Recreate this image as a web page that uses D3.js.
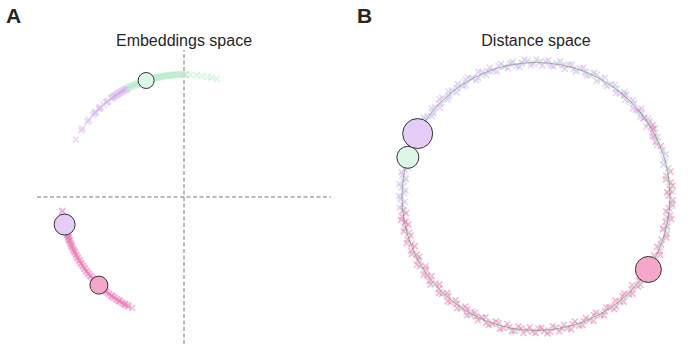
<!DOCTYPE html>
<html>
<head>
<meta charset="utf-8">
<script src="https://cdn.jsdelivr.net/npm/d3@7"></script>
<style>
body { margin: 0; background: #fff; }
text { font-family: "Liberation Sans", Arial, sans-serif; fill: #262626; }
</style>
</head>
<body>
<div id="container"></div>
<script>
// all angles in degrees on the unit circle (0 = right, counter-clockwise)

// panel A : embeddings space
var embGreen = [74.5, 77, 79, 81.5, 84, 87, 89, 89.5, 90, 90.5, 91, 91.5, 92, 92.5, 93, 93.5, 94, 94.5, 95,
	95.5, 96, 96.5, 97, 97.5, 98, 98.5, 99, 99.5, 100, 100.5, 101, 101.5, 102, 102.5, 103, 103.5, 104, 104.5,
	105, 105.5, 106, 106.5, 107, 107.5, 108, 108.5, 109, 109.5, 110, 110.5, 111, 111.5, 112, 112.5, 113,
	113.5, 114, 114.5, 115, 115.5, 116, 116.5, 117];
var embPurple = [117.5, 118, 118.5, 119, 119.5, 120, 120.5, 121, 121.5, 122, 122.5, 123, 123.5, 124, 124.5,
	125, 125.5, 126, 126.5, 128.5, 129, 129.5, 131, 133, 133.5, 134, 136, 136.5, 137, 138, 141, 142, 146,
	147, 152, 187, 189, 190.5, 191, 192, 193, 194, 195, 196, 197, 198, 199, 200, 201, 203, 206, 230, 234,
	238, 241];
var embPink = [186.5, 190, 191, 192, 193.5, 194.5, 195, 196, 196.5, 197.5, 198, 199, 199.5, 200.5, 201, 202,
	202.5, 203.5, 204, 205, 205.5, 206.5, 207, 208, 208.5, 209.5, 210, 211, 211.5, 212.5, 213, 214, 214.5,
	215.5, 216, 217, 217.5, 218.5, 219, 220, 220.5, 221.5, 222, 223, 223.5, 224.5, 225, 226, 226.5, 227.5,
	228, 229, 229.5, 230.5, 231, 232, 232.5, 233.5, 234, 235, 235.5, 236.5, 237, 238, 238.5, 239.5, 240,
	241, 241.5, 242.5, 243, 245];

// panel B : distance space, [angle, radius]
var distPurple = [[26, 1.01], [28.5, 0.99], [31, 1.0], [33.5, 1.015], [36, 0.99], [38.5, 1.005], [41, 0.985],
	[43.5, 1.01], [46, 0.995], [48.5, 1.015], [51, 0.99], [53.5, 1.0], [56, 1.01], [58.5, 0.985], [61, 1.005],
	[63.5, 1.015], [66, 0.99], [68.5, 1.0], [71, 1.01], [73.5, 0.99], [76, 1.015], [78.5, 0.995], [81, 1.005],
	[83.5, 0.985], [86, 1.01], [88.5, 1.0], [91, 0.99], [93.5, 1.015], [96, 1.005], [98.5, 0.985], [101, 1.01],
	[103.5, 0.995], [106, 1.015], [108.5, 0.99], [111, 1.0], [113.5, 1.01], [116, 0.985], [118.5, 1.005],
	[121, 1.015], [123.5, 0.99], [126, 1.0], [128.5, 1.01], [131, 0.99], [133.5, 1.015], [136, 0.995],
	[138.5, 1.005], [141, 0.985], [143.5, 1.01], [146, 1.0], [148.5, 0.99], [151, 1.015], [153.5, 1.005],
	[156, 0.985], [158.5, 1.01], [161, 0.995], [163.5, 1.015], [166, 0.99], [168.5, 1.0], [171, 1.01],
	[173.5, 0.99], [176, 1.005], [178.5, 0.985], [181, 1.01], [183.5, 1.0], [186, 0.99],
	[27.3, 0.978], [29.8, 1.022], [32.3, 0.975], [34.8, 1.02], [37.3, 0.98], [39.8, 1.025], [42.3, 0.977],
	[44.8, 1.02], [47.3, 0.982], [49.8, 1.024], [52.3, 0.976], [54.8, 1.021], [57.3, 0.98], [59.8, 1.025],
	[62.3, 0.975], [64.8, 1.02], [67.3, 0.978], [69.8, 1.023], [72.3, 0.98], [74.8, 1.02], [77.3, 0.976],
	[79.8, 1.025], [82.3, 0.98], [84.8, 1.021], [87.3, 0.977], [89.8, 1.022], [92.3, 0.98], [94.8, 1.024],
	[97.3, 0.975], [99.8, 1.02], [102.3, 0.98], [104.8, 1.023], [107.3, 0.977], [109.8, 1.02], [112.3, 0.981],
	[114.8, 1.025], [117.3, 0.976], [119.8, 1.021], [122.3, 0.98], [124.8, 1.024], [127.3, 0.977], [129.8, 1.02],
	[132.3, 0.98], [134.8, 1.023], [137.3, 0.976], [139.8, 1.02], [142.3, 0.98], [144.8, 1.025], [147.3, 0.977],
	[149.8, 1.021], [152.3, 0.98], [154.8, 1.022], [157.3, 0.976], [159.8, 1.02], [162.3, 0.98], [164.8, 1.024],
	[167.3, 0.977], [169.8, 1.02], [172.3, 0.98], [174.8, 1.023], [177.3, 0.976], [179.8, 1.021], [182.3, 0.98],
	[184.8, 1.02],
	[2, 1.02], [12, 1.01], [14, 0.98], [16, 0.995], [18, 1.02], [20, 1.005], [23, 0.98], [-4, 1.02], [-9, 0.99],
	[-14, 0.98], [191, 1.0], [239, 1.01], [241, 0.98], [246, 0.99]];
var distPink = [[186, 1.0], [188.5, 1.012], [191, 0.99], [193.5, 1.005], [196, 0.985], [198.5, 1.01],
	[201, 0.995], [203.5, 1.015], [206, 0.99], [208.5, 1.0], [211, 1.01], [213.5, 0.985], [216, 1.005],
	[218.5, 1.015], [221, 0.99], [223.5, 1.0], [226, 1.01], [228.5, 0.99], [231, 1.015], [233.5, 0.995],
	[236, 1.005], [238.5, 0.985], [241, 1.01], [243.5, 1.0], [246, 0.99], [248.5, 1.015], [251, 1.005],
	[253.5, 0.985], [256, 1.01], [258.5, 0.995], [261, 1.015], [263.5, 0.99], [266, 1.0], [268.5, 1.01],
	[271, 0.985], [273.5, 1.005], [276, 1.015], [278.5, 0.99], [281, 1.0], [283.5, 1.01], [286, 0.99],
	[288.5, 1.015], [291, 0.995], [293.5, 1.005], [296, 0.985], [298.5, 1.01], [301, 1.0], [303.5, 0.99],
	[306, 1.015], [308.5, 1.005], [311, 0.985], [313.5, 1.01], [316, 0.995], [318.5, 1.015], [321, 0.99],
	[323.5, 1.0], [326, 1.01], [328.5, 0.99], [331, 1.005], [333.5, 0.985], [336, 1.01], [339, 1.0],
	[341, 0.99], [344, 1.015], [347, 1.005], [349, 0.985], [352, 1.01], [355, 0.995], [357, 1.015],
	[0.5, 0.99], [3, 1.0], [6, 1.01], [9, 0.985], [22, 1.005], [27, 0.99], [30, 1.01], [33, 1.0],
	[40, 0.995], [49, 1.0],
	[187.3, 0.978], [189.8, 1.022], [192.3, 0.975], [194.8, 1.02], [197.3, 0.98], [199.8, 1.025], [202.3, 0.977],
	[204.8, 1.02], [207.3, 0.982], [209.8, 1.024], [212.3, 0.976], [214.8, 1.021], [217.3, 0.98], [219.8, 1.025],
	[222.3, 0.975], [224.8, 1.02], [227.3, 0.978], [229.8, 1.023], [232.3, 0.98], [234.8, 1.02], [237.3, 0.976],
	[239.8, 1.025], [242.3, 0.98], [244.8, 1.021], [247.3, 0.977], [249.8, 1.022], [252.3, 0.98], [254.8, 1.024],
	[257.3, 0.975], [259.8, 1.02], [262.3, 0.98], [264.8, 1.023], [267.3, 0.977], [269.8, 1.02], [272.3, 0.981],
	[274.8, 1.025], [277.3, 0.976], [279.8, 1.021], [282.3, 0.98], [284.8, 1.024], [287.3, 0.977], [289.8, 1.02],
	[292.3, 0.98], [294.8, 1.023], [297.3, 0.976], [299.8, 1.02], [302.3, 0.98], [304.8, 1.025], [307.3, 0.977],
	[309.8, 1.021], [312.3, 0.98], [314.8, 1.022], [317.3, 0.976], [319.8, 1.02], [322.3, 0.98], [324.8, 1.024],
	[327.3, 0.977], [329.8, 1.02], [334.8, 1.022], [337.5, 0.978], [342.5, 1.02], [345.5, 0.98], [350.5, 1.022],
	[353.5, 0.977], [358.5, 1.02], [1.8, 0.98], [4.5, 1.022], [7.5, 0.978], [10.5, 1.02], [24.5, 0.98],
	[31.5, 1.02], [36, 1.0]];
var distGreen = [[0, 1.0], [6, 0.99], [12, 1.01], [19, 1.0], [24, 0.995], [33, 1.005], [45, 0.99],
	[53, 1.01], [61, 1.0], [68, 0.995], [77, 1.005], [85, 0.99], [92, 1.0], [100, 1.01], [110, 0.995],
	[118, 1.0], [126, 1.005], [135, 0.99], [145, 1.0], [158, 1.01], [167, 0.995], [176, 1.0], [180, 1.005],
	[196, 0.99], [205, 1.0], [213, 1.01], [221, 0.995], [228, 1.0], [236, 1.005], [250, 0.99], [258, 1.0],
	[266, 1.01], [275, 0.995], [283, 1.0], [290, 1.005], [298, 0.99], [305, 1.0], [312, 1.01], [320, 0.995],
	[338, 1.0], [345, 1.005], [352, 0.99],
	[3, 1.01], [9, 0.99], [15, 1.0], [28, 1.01], [38, 0.99], [49, 1.005], [57, 0.995], [65, 1.01], [72, 0.99],
	[81, 1.0], [88, 1.01], [96, 0.995], [104, 1.0], [114, 0.99], [122, 1.01], [130, 1.0], [140, 0.995],
	[150, 1.005], [172, 0.99], [186, 1.0], [200, 1.01], [209, 0.99], [217, 1.0], [225, 1.005], [232, 0.99],
	[241, 1.01], [246, 1.0], [254, 0.99], [262, 1.005], [270, 1.0], [279, 0.99], [287, 1.01], [294, 1.0],
	[301, 0.995], [309, 1.005], [316, 0.99], [325, 1.0], [333, 1.01], [341, 0.995], [348, 1.0], [356, 1.005]];

// cluster centres (size = squared radius in px)
var centroidGroups = ["green", "purple", "pink"];
var embCentroidAngles = [108, 193, 226];
var embCentroidSizes = [64, 110, 81];
var distCentroidAngles = [163, 152, 327];
var distCentroidSizes = [121, 225, 169];

var titles = ["Embeddings space", "Distance space"];
var panelLabels = ["A", "B"];

var colors = { green: "#b8edcc", purple: "#d7b0f4", pink: "#ee7ab4" };
var centroidFill = { green: "#dcf7e6", purple: "#e5cdf8", pink: "#f4a6cb" };

var w = 690, h = 353;

var svg = d3.select("div#container").append("svg")
	.attr("width", w)
	.attr("height", h);

svg.append("rect").attr("width", w).attr("height", h).attr("fill", "#fff");

var sizeScale = d3.scaleSqrt().domain([0, 225]).range([0, 15]);
var rad = function (a) { return a * Math.PI / 180; };
var cross = "M-3,-3L3,3M-3,3L3,-3";

// ---------- panel A ----------
var xA = d3.scaleLinear().domain([-1.2, 1.2]).range([37, 331]),
	yA = d3.scaleLinear().domain([-1.2, 1.2]).range([344, 50]);

var gA = svg.append("g");

gA.append("line") //horizontal dashed axis
	.attr("x1", xA(-1.2)).attr("x2", xA(1.2))
	.attr("y1", yA(0)).attr("y2", yA(0))
	.attr("stroke", "#777").attr("stroke-dasharray", "4,2.5");
gA.append("line") //vertical dashed axis
	.attr("x1", xA(0)).attr("x2", xA(0))
	.attr("y1", yA(-1.2)).attr("y2", yA(1.2))
	.attr("stroke", "#777").attr("stroke-dasharray", "4,2.5");

function drawCrossesA(data, col) {
	gA.append("g").selectAll("path")
		.data(data)
	  .enter().append("path")
		.attr("d", cross)
		.attr("transform", function (a) { return "translate(" + xA(Math.cos(rad(a))) + "," + yA(Math.sin(rad(a))) + ")"; })
		.attr("fill", "none")
		.attr("stroke", col)
		.attr("stroke-width", 1.6)
		.attr("stroke-opacity", 0.5);
}
drawCrossesA(embPurple, colors.purple);
drawCrossesA(embPink, colors.pink);
drawCrossesA(embGreen, colors.green);

gA.selectAll("circle.centroid")
	.data(centroidGroups)
  .enter().append("circle")
	.attr("class", "centroid")
	.attr("cx", function (d, i) { return xA(Math.cos(rad(embCentroidAngles[i]))); })
	.attr("cy", function (d, i) { return yA(Math.sin(rad(embCentroidAngles[i]))); })
	.attr("r", function (d, i) { return sizeScale(embCentroidSizes[i]); })
	.attr("fill", function (d) { return centroidFill[d]; })
	.attr("stroke", "#333")
	.attr("stroke-width", 1);

// ---------- panel B ----------
var xB = d3.scaleLinear().domain([-1, 1]).range([402, 670]),
	yB = d3.scaleLinear().domain([-1, 1]).range([330.5, 62.5]);

var gB = svg.append("g");

function drawCrossesB(data, col) {
	gB.append("g").selectAll("path")
		.data(data)
	  .enter().append("path")
		.attr("d", cross)
		.attr("transform", function (d) { return "translate(" + xB(d[1] * Math.cos(rad(d[0]))) + "," + yB(d[1] * Math.sin(rad(d[0]))) + ")"; })
		.attr("fill", "none")
		.attr("stroke", col)
		.attr("stroke-width", 1.6)
		.attr("stroke-opacity", 0.55);
}
drawCrossesB(distPurple, colors.purple);
drawCrossesB(distPink, colors.pink);
drawCrossesB(distGreen, colors.green);

gB.append("ellipse") //reference circle
	.attr("cx", xB(0)).attr("cy", yB(0))
	.attr("rx", xB(1) - xB(0)).attr("ry", yB(0) - yB(1))
	.attr("fill", "none")
	.attr("stroke", "#777")
	.attr("stroke-opacity", 0.7)
	.attr("stroke-width", 0.8);

gB.selectAll("circle.centroid")
	.data(centroidGroups)
  .enter().append("circle")
	.attr("class", "centroid")
	.attr("cx", function (d, i) { return xB(Math.cos(rad(distCentroidAngles[i]))); })
	.attr("cy", function (d, i) { return yB(Math.sin(rad(distCentroidAngles[i]))); })
	.attr("r", function (d, i) { return sizeScale(distCentroidSizes[i]); })
	.attr("fill", function (d) { return centroidFill[d]; })
	.attr("stroke", "#333")
	.attr("stroke-width", 1);

// ---------- titles and panel letters ----------
svg.selectAll("text.title")
	.data(titles)
  .enter().append("text")
	.attr("class", "title")
	.attr("x", function (d, i) { return i == 0 ? xA(0) : xB(0); })
	.attr("y", 46)
	.attr("text-anchor", "middle")
	.style("font-size", "16px")
	.text(function (d) { return d; });

svg.selectAll("text.label")
	.data(panelLabels)
  .enter().append("text")
	.attr("class", "label")
	.attr("x", function (d, i) { return i == 0 ? 6 : 357; })
	.attr("y", 23)
	.style("font-size", "21px")
	.style("font-weight", "bold")
	.text(function (d) { return d; });
</script>
</body>
</html>
